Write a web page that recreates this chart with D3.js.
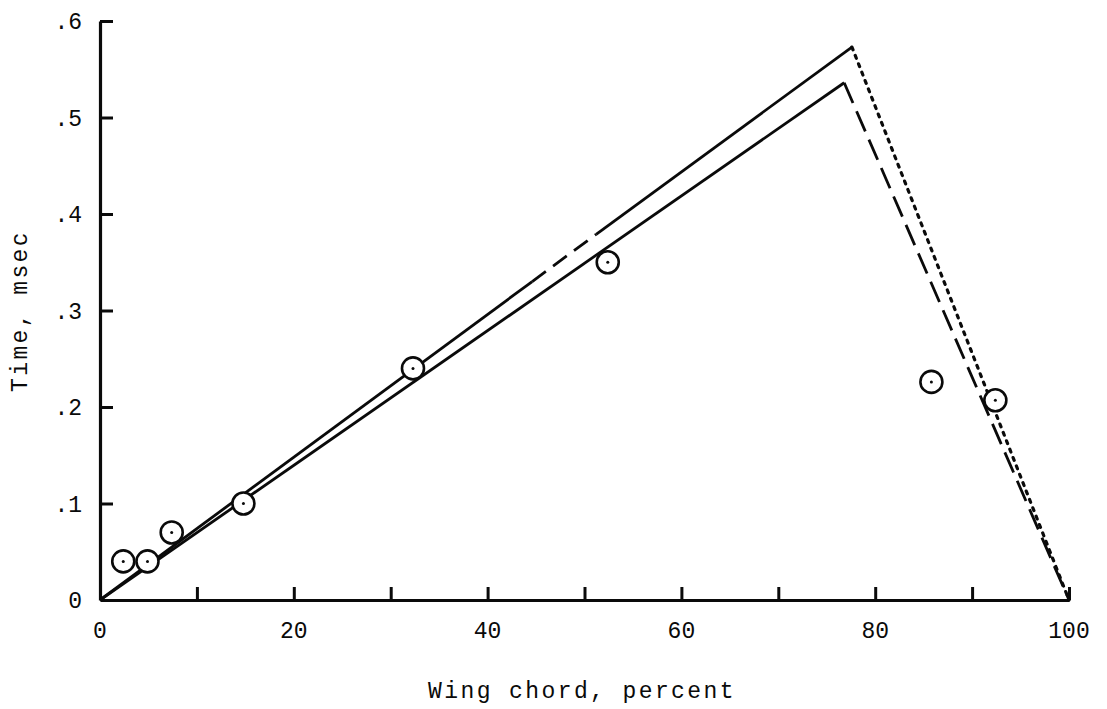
<!DOCTYPE html>
<html>
<head>
<meta charset="utf-8">
<script src="https://cdn.jsdelivr.net/npm/d3@7"></script>
<style>
  html, body { margin: 0; padding: 0; background: #fff; }
  svg { display: block; }
</style>
</head>
<body>
<svg id="chart" width="1107" height="709"></svg>
<script>
// Measured arrival times across the wing chord
const chordPct = [2.4, 4.9, 7.4, 14.8, 32.3, 52.4, 85.8, 92.4];
const timeMs   = [0.040, 0.040, 0.070, 0.100, 0.240, 0.350, 0.226, 0.207];

// Computed curves: [x0, y0, x1, y1, style]
const upperSegments = [
  [0, 0, 44.6, 0.330, "solid"],
  [44.6, 0.330, 51.2, 0.379, "dashed"],
  [51.2, 0.379, 77.6, 0.573, "solid"],
  [77.6, 0.573, 100, 0, "dotted"]
];
const lowerSegments = [
  [0, 0, 76.8, 0.536, "solid"],
  [76.8, 0.536, 100, 0, "longdash"]
];

const xTicks = [10, 20, 30, 40, 50, 60, 70, 80, 90, 100];
const xLabels = [0, 20, 40, 60, 80, 100];
const yTicks = [0.1, 0.2, 0.3, 0.4, 0.5, 0.6];
const yLabels = ["0", ".1", ".2", ".3", ".4", ".5", ".6"];

const svg = d3.select("#chart");
const x = d3.scaleLinear().domain([0, 100]).range([100, 1069]);
const y = d3.scaleLinear().domain([0, 0.6]).range([600, 21]);
const ink = "#0a0a0a";

// Axes with inward ticks
const xAxis = d3.axisBottom(x).tickValues(xTicks).tickSize(-13).tickSizeOuter(0).tickFormat("");
const yAxis = d3.axisLeft(y).tickValues(yTicks).tickSize(-13).tickSizeOuter(0).tickFormat("");

const gx = svg.append("g").attr("transform", `translate(0,${y(0)})`).call(xAxis);
const gy = svg.append("g").attr("transform", `translate(${x(0)},0)`).call(yAxis);
[gx, gy].forEach(g => {
  g.select(".domain").attr("stroke", ink).attr("stroke-width", 3.2);
  g.selectAll(".tick line").attr("stroke", ink).attr("stroke-width", 3);
});

// Tick labels
const labelFont = '"Liberation Mono", "DejaVu Sans Mono", monospace';
svg.append("g").selectAll("text").data(xLabels).join("text")
  .attr("x", d => x(d)).attr("y", y(0) + 38)
  .attr("text-anchor", "middle")
  .attr("font-family", labelFont).attr("font-size", 23).attr("fill", ink)
  .text(d => d);

svg.append("g").selectAll("text").data(yLabels).join("text")
  .attr("x", x(0) - 18).attr("y", (d, i) => y(i / 10) + 8)
  .attr("text-anchor", "end")
  .attr("font-family", labelFont).attr("font-size", 23).attr("fill", ink)
  .text(d => d);

// Axis titles
svg.append("text")
  .attr("x", 582).attr("y", 698)
  .attr("text-anchor", "middle")
  .attr("font-family", labelFont).attr("font-size", 23)
  .attr("letter-spacing", 2.4).attr("fill", ink)
  .text("Wing chord, percent");

svg.append("text")
  .attr("transform", `translate(27,311) rotate(-90)`)
  .attr("text-anchor", "middle")
  .attr("font-family", labelFont).attr("font-size", 23)
  .attr("letter-spacing", 2.4).attr("fill", ink)
  .text("Time, msec");

// Curves
const dashes = { solid: null, dashed: "17,9", longdash: "22,9", dotted: "3,6" };
const widths = { solid: 2.8, dashed: 2.8, longdash: 2.8, dotted: 3.2 };
svg.append("g").selectAll("line").data(upperSegments.concat(lowerSegments)).join("line")
  .attr("x1", d => x(d[0])).attr("y1", d => y(d[1]))
  .attr("x2", d => x(d[2])).attr("y2", d => y(d[3]))
  .attr("stroke", ink)
  .attr("stroke-width", d => widths[d[4]])
  .attr("stroke-dasharray", d => dashes[d[4]])
  .attr("stroke-linecap", d => d[4] === "dotted" ? "round" : "butt");

// Data points: open circles with a centre dot
const pts = chordPct.map((c, i) => ({ c, t: timeMs[i] }));
const gp = svg.append("g");
gp.selectAll("circle.ring").data(pts).join("circle")
  .attr("class", "ring")
  .attr("cx", d => x(d.c)).attr("cy", d => y(d.t)).attr("r", 11)
  .attr("fill", "#fff").attr("stroke", ink).attr("stroke-width", 2.6);
gp.selectAll("circle.dot").data(pts).join("circle")
  .attr("class", "dot")
  .attr("cx", d => x(d.c)).attr("cy", d => y(d.t)).attr("r", 1.5)
  .attr("fill", ink);
</script>
</body>
</html>
